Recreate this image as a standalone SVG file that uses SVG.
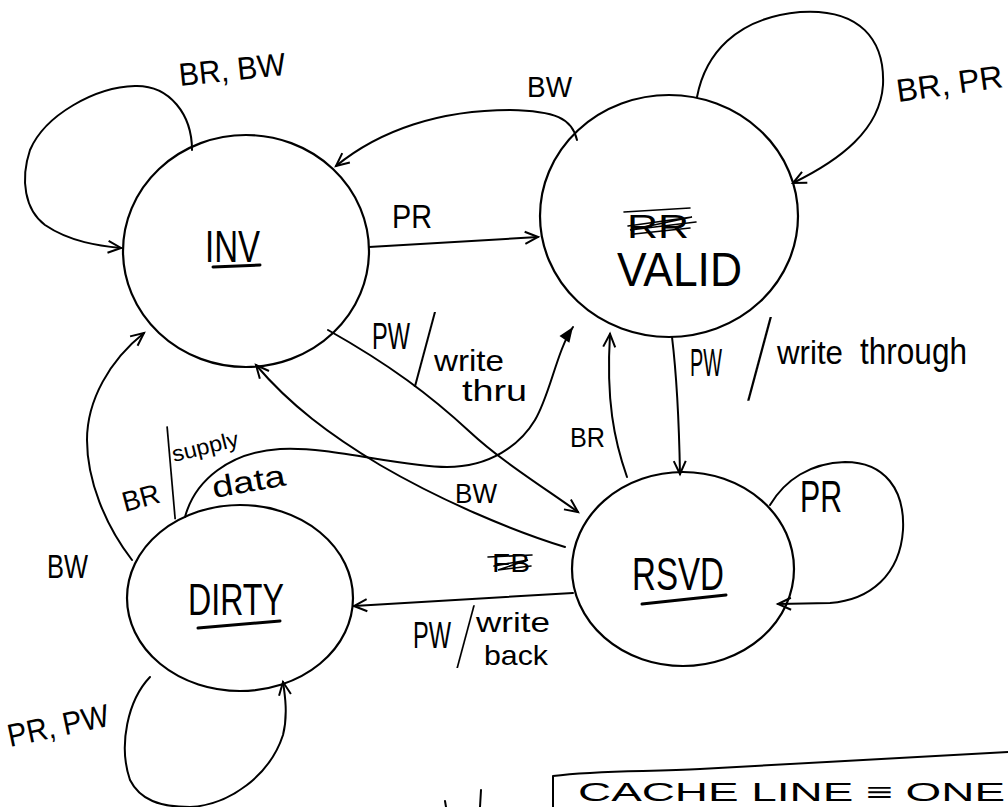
<svg xmlns="http://www.w3.org/2000/svg" width="1008" height="807" viewBox="0 0 1008 807">
  <defs>
    <style>
      .lbl { font-family: "Liberation Sans", Arial, sans-serif; fill: #000; }
      .sl { font-family: Inter, "Liberation Sans", sans-serif; font-weight: 100; }
      .edge { fill: none; stroke: #000; stroke-width: 2; stroke-linecap: round; stroke-linejoin: round; }
      .node { fill: #fff; stroke: #000; stroke-width: 2.2; }
      .ul { fill: none; stroke: #000; stroke-width: 3; stroke-linecap: round; }
      .scrib { fill: none; stroke: #000; stroke-width: 1.6; stroke-linecap: round; }
    </style>
    <marker id="open" markerUnits="userSpaceOnUse" markerWidth="18" markerHeight="16" refX="15" refY="8" orient="auto">
      <path d="M2,2 L15,8 L2,14" fill="none" stroke="#000" stroke-width="2"/>
    </marker>
    <marker id="solid" markerUnits="userSpaceOnUse" markerWidth="18" markerHeight="16" refX="16" refY="8" orient="auto">
      <path d="M1,2 L16,8 L1,14 Z" fill="#000"/>
    </marker>
  </defs>
  <rect width="1008" height="807" fill="#fff"/>

  <!-- state nodes -->
  <g id="inv">
    <ellipse class="node" cx="246" cy="251" rx="123" ry="116"/>
    <text class="lbl" x="205" y="262" font-size="44" textLength="55" lengthAdjust="spacingAndGlyphs">INV</text>
    <path class="ul" d="M213,267 L260,265"/>
  </g>
  <g id="valid">
    <ellipse class="node" cx="669" cy="216" rx="129" ry="121"/>
    <text class="lbl" x="627" y="238" font-size="34" textLength="62" lengthAdjust="spacingAndGlyphs">RR</text>
    <path class="scrib" d="M624,212 L690,208 M628,226 L692,217 L630,230 L696,222 M634,234 L690,228"/>
    <text class="lbl" x="617" y="286" font-size="48" textLength="125" lengthAdjust="spacingAndGlyphs">VALID</text>
  </g>
  <g id="dirty">
    <ellipse class="node" cx="240" cy="598" rx="113" ry="93"/>
    <text class="lbl" x="188" y="615" font-size="44" textLength="96" lengthAdjust="spacingAndGlyphs">DIRTY</text>
    <path class="ul" d="M198,628 L280,621"/>
  </g>
  <g id="rsvd">
    <ellipse class="node" cx="683" cy="569" rx="111" ry="97"/>
    <text class="lbl" x="632" y="590" font-size="46" textLength="92" lengthAdjust="spacingAndGlyphs">RSVD</text>
    <path class="ul" d="M642,604 L726,595"/>
  </g>

  <!-- transitions -->
  <g id="connectors">
    <!-- INV self loop -->
    <path class="edge" marker-end="url(#open)" d="M192,150 C192,115 170,85 135,86 C95,87 45,115 30,150 C20,180 25,210 45,225 C70,242 100,246 121,248"/>
    <!-- VALID -> INV -->
    <path class="edge" marker-end="url(#open)" d="M577,140 C572,118 555,111 510,110 C440,110 380,130 336,166"/>
    <!-- INV -> VALID -->
    <path class="edge" marker-end="url(#open)" d="M369,247 L538,237"/>
    <!-- VALID self loop -->
    <path class="edge" marker-end="url(#open)" d="M697,97 C705,55 735,18 800,12 C860,8 885,40 883,85 C880,130 840,160 793,183"/>
    <!-- INV -> RSVD -->
    <path class="edge" marker-end="url(#open)" d="M328,330 C390,365 430,395 470,432 C500,460 540,485 578,512"/>
    <!-- DIRTY -> VALID -->
    <path class="edge" marker-end="url(#solid)" d="M185,517 C195,480 230,452 280,449 C330,446 400,467 447,467 C490,467 520,445 535,420 C550,395 557,350 573,327"/>
    <!-- RSVD -> INV -->
    <path class="edge" marker-end="url(#open)" d="M565,547 C510,530 440,500 380,465 C330,435 290,405 256,365"/>
    <!-- VALID -> RSVD -->
    <path class="edge" marker-end="url(#open)" d="M672,337 C676,370 679,420 680,474"/>
    <!-- RSVD -> VALID -->
    <path class="edge" marker-end="url(#open)" d="M627,477 C614,440 606,400 610,334"/>
    <!-- RSVD self loop -->
    <path class="edge" marker-end="url(#open)" d="M770,505 C785,480 810,463 845,462 C885,462 905,490 903,530 C900,575 870,600 830,603 L778,604"/>
    <!-- DIRTY -> INV -->
    <path class="edge" marker-end="url(#open)" d="M132,560 C105,525 87,480 87,440 C87,400 110,360 144,333"/>
    <!-- RSVD -> DIRTY -->
    <path class="edge" marker-end="url(#open)" d="M573,593 L354,606"/>
    <!-- DIRTY self loop -->
    <path class="edge" marker-end="url(#open)" d="M150,677 C128,700 118,745 130,780 C140,800 160,807 190,807 C230,805 270,775 283,735 C288,715 285,695 283,682"/>
  </g>

  <!-- transition labels -->
  <g id="labels">
    <text class="lbl" x="180" y="86" font-size="32" textLength="107" lengthAdjust="spacingAndGlyphs" transform="rotate(-6 180 86)">BR, BW</text>
    <text class="lbl" x="527" y="97" font-size="30" textLength="45" lengthAdjust="spacingAndGlyphs">BW</text>
    <text class="lbl" x="392" y="228" font-size="34" textLength="40" lengthAdjust="spacingAndGlyphs">PR</text>
    <text class="lbl" x="898" y="102" font-size="32" textLength="107" lengthAdjust="spacingAndGlyphs" transform="rotate(-8 898 102)">BR, PR</text>

    <text class="lbl" font-size="30"><tspan x="372" y="349" font-size="36" textLength="38" lengthAdjust="spacingAndGlyphs">PW</tspan><tspan class="sl" x="411" y="378" font-size="86">/</tspan><tspan x="434" y="371" textLength="70" lengthAdjust="spacingAndGlyphs">write</tspan><tspan x="462" y="401" textLength="65" lengthAdjust="spacingAndGlyphs">thru</tspan></text>

    <text class="lbl" font-size="34"><tspan x="690" y="376" font-size="38" textLength="32" lengthAdjust="spacingAndGlyphs">PW</tspan><tspan class="sl" x="744" y="390" font-size="96">/</tspan><tspan x="777" y="364" textLength="66" lengthAdjust="spacingAndGlyphs">write</tspan><tspan x="860" y="364" font-size="36" textLength="107" lengthAdjust="spacingAndGlyphs">through</tspan></text>

    <text class="lbl" x="570" y="447" font-size="28" textLength="35" lengthAdjust="spacingAndGlyphs">BR</text>
    <text class="lbl" x="455" y="503" font-size="28" textLength="42" lengthAdjust="spacingAndGlyphs">BW</text>
    <text class="lbl" x="800" y="512" font-size="44" textLength="42" lengthAdjust="spacingAndGlyphs">PR</text>

    <text class="lbl" x="125" y="512" font-size="28" textLength="38" lengthAdjust="spacingAndGlyphs" transform="rotate(-15 125 512)">BR</text>
    <text class="lbl sl" font-size="78" transform="translate(163,502) rotate(-5)">|</text>
    <text class="lbl" x="174" y="462" font-size="22" textLength="68" lengthAdjust="spacingAndGlyphs" transform="rotate(-14 174 462)">supply</text>
    <text class="lbl" x="214" y="498" font-size="30" textLength="74" lengthAdjust="spacingAndGlyphs" transform="rotate(-10 214 498)">data</text>

    <text class="lbl" x="47" y="578" font-size="34" textLength="41" lengthAdjust="spacingAndGlyphs">BW</text>

    <text class="lbl" x="492" y="572" font-size="26" textLength="38" lengthAdjust="spacingAndGlyphs">FB</text>
    <path class="scrib" d="M488,557 L532,555 M494,566 L528,560 L498,570 L531,566"/>
    <text class="lbl" font-size="28"><tspan x="413" y="648" font-size="36" textLength="38" lengthAdjust="spacingAndGlyphs">PW</tspan><tspan class="sl" x="454" y="660" font-size="72">/</tspan><tspan x="476" y="632" textLength="74" lengthAdjust="spacingAndGlyphs">write</tspan><tspan x="484" y="665" textLength="64" lengthAdjust="spacingAndGlyphs">back</tspan></text>

    <text class="lbl" x="10" y="747" font-size="32" textLength="103" lengthAdjust="spacingAndGlyphs" transform="rotate(-12 10 747)">PR, PW</text>
  </g>

  <!-- note box along the bottom edge -->
  <g id="note">
    <path class="edge" d="M553,807 L553,776 C600,770 650,772 700,769 C800,763 900,757 1008,752"/>
    <text class="lbl" x="578" y="801" font-size="26" textLength="427" lengthAdjust="spacingAndGlyphs">CACHE LINE ≡ ONE</text>
    <path class="edge" d="M445,801 L446,807 M481,790 L480,807"/>
  </g>
</svg>
